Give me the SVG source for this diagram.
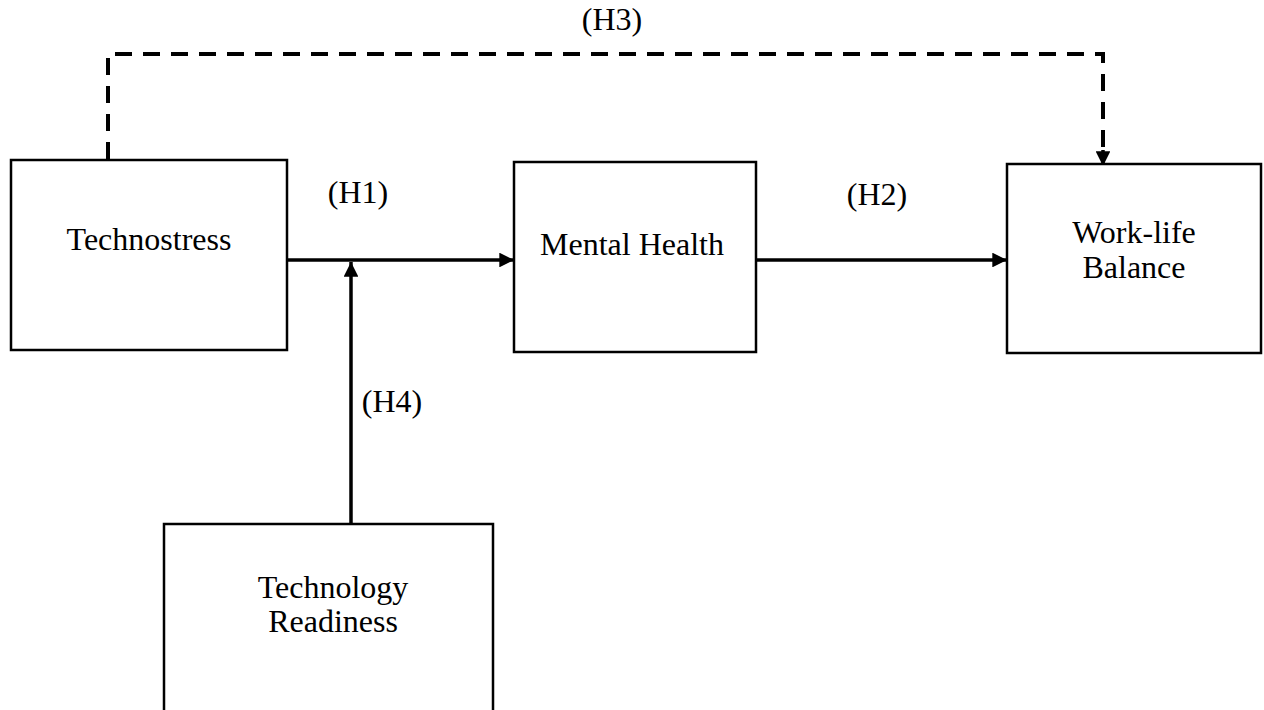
<svg xmlns="http://www.w3.org/2000/svg" width="1264" height="710" viewBox="0 0 1264 710">
<style>
.box{fill:#fff;stroke:#000;stroke-width:2.5}
.t{font-family:"Liberation Serif","Times New Roman",serif;font-size:32px;fill:#000;text-anchor:middle}
.c{fill:none;stroke:#000;stroke-width:3.5}
.d{stroke-width:4;stroke-dasharray:17,11}
</style>
<defs>
<marker id="ah" viewBox="0 0 10 10" refX="10" refY="5" markerWidth="4.4" markerHeight="4.2" markerUnits="strokeWidth" orient="auto">
<path d="M0,0 L10,5 L0,10 z" fill="#000"/>
</marker>
</defs>
<rect width="1264" height="710" fill="#fff"/>
<g id="connectors">
<path class="c d" d="M108,159 V54 H1103 V152"/>
<path class="c" d="M1103,150 V166" marker-end="url(#ah)"/>
<path class="c" d="M287,260 H514" marker-end="url(#ah)"/>
<path class="c" d="M351,523 V262" marker-end="url(#ah)"/>
<path class="c" d="M756,260 H1007" marker-end="url(#ah)"/>
<text class="t" x="612" y="30">(H3)</text>
<text class="t" x="358" y="203">(H1)</text>
<text class="t" x="877" y="205">(H2)</text>
<text class="t" x="392" y="412">(H4)</text>
</g>
<g id="technostress">
<rect class="box" x="11" y="160" width="276" height="190"/>
<text class="t" x="149" y="250">Technostress</text>
</g>
<g id="mental-health">
<rect class="box" x="514" y="162" width="242" height="190"/>
<text class="t" x="632" y="255">Mental Health</text>
</g>
<g id="work-life-balance">
<rect class="box" x="1007" y="164" width="254" height="189"/>
<text class="t" x="1134" y="243">Work-life</text>
<text class="t" x="1134" y="278">Balance</text>
</g>
<g id="technology-readiness">
<rect class="box" x="164" y="524" width="329" height="200"/>
<text class="t" x="333" y="598">Technology</text>
<text class="t" x="333" y="632">Readiness</text>
</g>
</svg>
